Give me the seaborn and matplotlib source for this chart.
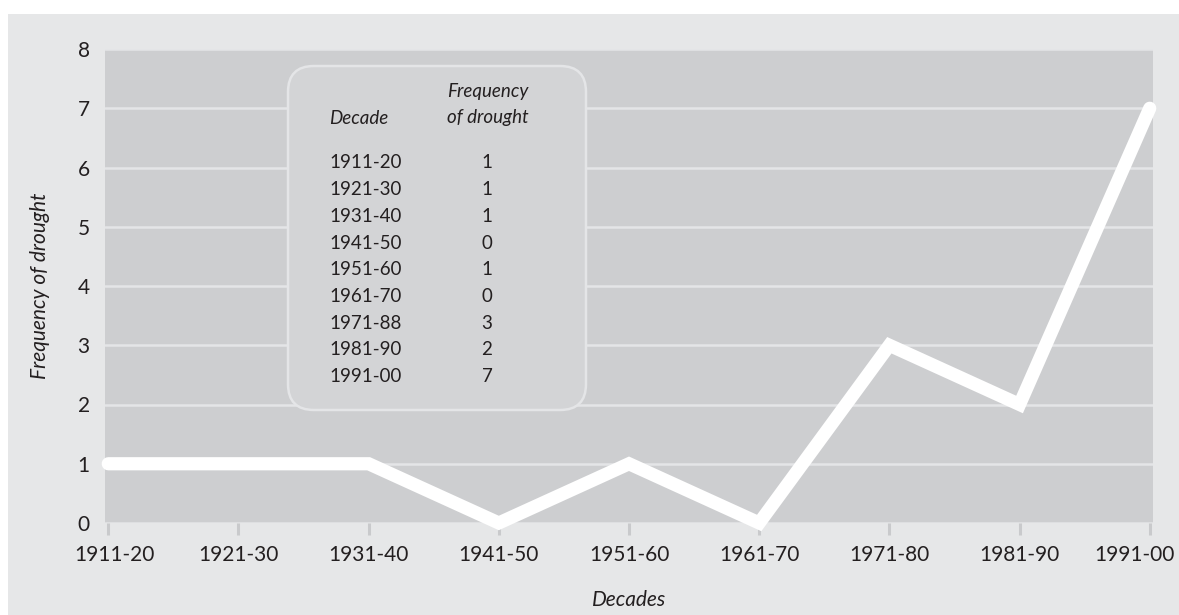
import pandas as pd
import matplotlib
import matplotlib.pyplot as plt
import seaborn as sns
from matplotlib.patches import FancyBboxPatch, Rectangle
from matplotlib.transforms import IdentityTransform, ScaledTranslation

# ---- data ----
decades = ["1911-20", "1921-30", "1931-40", "1941-50", "1951-60",
           "1961-70", "1971-80", "1981-90", "1991-00"]
frequency = [1, 1, 1, 0, 1, 0, 3, 2, 7]

# table in the inset (kept as printed, including "1971-88")
table_decades = ["1911-20", "1921-30", "1931-40", "1941-50", "1951-60",
                 "1961-70", "1971-88", "1981-90", "1991-00"]
table_freq = ["1", "1", "1", "0", "1", "0", "3", "2", "7"]

df = pd.DataFrame({"decade": decades, "frequency": frequency})
df["pos"] = range(len(df))

# ---- style ----
outer_bg = "#e6e7e8"
plot_bg = "#cdced0"
box_bg = "#d3d4d6"
grid_col = "#e4e5e7"
text_col = "#231f20"

sns.set_theme(style="white")
plt.rcParams["font.family"] = ["Lato", "DejaVu Sans"]
plt.rcParams["text.color"] = text_col

W, H = 1179, 615
fig = plt.figure(figsize=(W / 100, H / 100), dpi=100)
fig.patch.set_facecolor("white")
fig.patches.append(Rectangle((8 / W, 0), 1, 1 - 14 / H, transform=fig.transFigure,
                             facecolor=outer_bg, edgecolor="none", zorder=-1))

ax = fig.add_axes([105 / W, 92 / H, (1153 - 105) / W, (523 - 49) / H])
ax.set_zorder(1)
ax.set_facecolor(plot_bg)

sns.lineplot(data=df, x="pos", y="frequency", ax=ax, color="white", linewidth=9.5,
             sort=False, zorder=4, clip_on=False,
             solid_capstyle="round", solid_joinstyle="miter")

ax.set_xlim(-0.025, 8.025)
ax.set_ylim(0, 8)
ax.set_xticks(df["pos"])
ax.set_xticklabels(decades)
ax.set_yticks(range(0, 9))

for s in ax.spines.values():
    s.set_visible(False)

ax.yaxis.grid(True, color=grid_col, linewidth=1.8, zorder=1)
ax.xaxis.grid(False)
ax.set_axisbelow(True)

ax.tick_params(axis="x", bottom=True, length=8.5, width=2.2, color="#c9cacc", pad=7,
               labelsize=15, labelcolor=text_col, direction="out")
ax.tick_params(axis="y", left=False, length=0, pad=11, labelsize=15, labelcolor=text_col)

# nudge the end labels inward a little, as in the original
labels = ax.get_xticklabels()
labels[0].set_transform(labels[0].get_transform() + ScaledTranslation(6 / 100, 0, fig.dpi_scale_trans))
labels[-1].set_transform(labels[-1].get_transform() + ScaledTranslation(-15 / 100, 0, fig.dpi_scale_trans))

ax.set_xlabel("Decades", fontsize=15, style="italic", color=text_col, labelpad=18)
ax.set_ylabel("Frequency of drought", fontsize=15, style="italic", color=text_col,
              labelpad=20)

# ---- inset table box ----
box = FancyBboxPatch((288, H - 410), 298, 344,
                     boxstyle="round,pad=0,rounding_size=26",
                     transform=IdentityTransform(),
                     facecolor=box_bg, edgecolor=grid_col, linewidth=1.8, zorder=3)
fig.patches.append(box)

fs = 13.5
fig.text(329 / W, 1 - 118 / H, "Decade", fontsize=fs, style="italic",
         ha="left", va="center", zorder=5)
fig.text(488 / W, 1 - 92 / H, "Frequency", fontsize=fs, style="italic",
         ha="center", va="center", zorder=5)
fig.text(488 / W, 1 - 118 / H, "of drought", fontsize=fs, style="italic",
         ha="center", va="center", zorder=5)

row_y0, row_dy = 163, 26.7
for i, (d, f) in enumerate(zip(table_decades, table_freq)):
    y = 1 - (row_y0 + i * row_dy) / H
    fig.text(329 / W, y, d, fontsize=fs, ha="left", va="center", zorder=5)
    fig.text(487 / W, y, f, fontsize=fs, ha="center", va="center", zorder=5)

fig.savefig("out.png", dpi=100)
